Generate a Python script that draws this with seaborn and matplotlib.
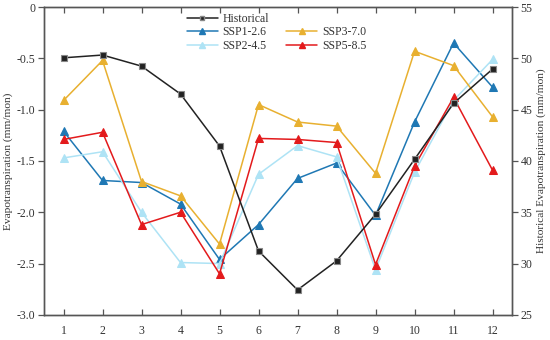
import matplotlib
matplotlib.use("Agg")
import matplotlib.pyplot as plt
import seaborn as sns
import numpy as np
from matplotlib.lines import Line2D

months = list(range(1, 13))
historical = [50.06, 50.33, 49.25, 46.53, 41.46, 31.23, 27.43, 30.26, 34.8, 40.16, 45.62, 48.96]
ssp126 = [-1.21, -1.69, -1.71, -1.92, -2.46, -2.12, -1.67, -1.52, -2.03, -1.12, -0.35, -0.78]
ssp245 = [-1.47, -1.41, -2.00, -2.49, -2.50, -1.63, -1.35, -1.46, -2.56, -1.61, -0.91, -0.51]
ssp370 = [-0.91, -0.52, -1.70, -1.84, -2.31, -0.95, -1.12, -1.16, -1.62, -0.43, -0.57, -1.07]
ssp585 = [-1.29, -1.22, -2.12, -2.00, -2.60, -1.28, -1.29, -1.32, -2.51, -1.55, -0.88, -1.59]
left_ticks = [0, -0.5, -1.0, -1.5, -2.0, -2.5, -3.0]
left_labels = ["0", "-0.5", "-1.0", "-1.5", "-2.0", "-2.5", "-3.0"]
right_ticks = [25, 30, 35, 40, 45, 50, 55]

sns.set_theme(style="white")
plt.rcParams['font.family'] = ['Liberation Serif', 'DejaVu Serif']

fig = plt.figure(figsize=(5.5, 3.4), dpi=100)
ax = fig.add_axes([0.080, 0.074, 0.851, 0.905])
ax2 = ax.twinx()

series = [
    ("SSP1-2.6", ssp126, "#1f78b4"),
    ("SSP2-4.5", ssp245, "#aee3f5"),
    ("SSP3-7.0", ssp370, "#e8b030"),
    ("SSP5-8.5", ssp585, "#e31a1c"),
]
handles = {}
for name, vals, col in series:
    sns.lineplot(x=months, y=vals, ax=ax, color=col, marker="^", markersize=5.5,
                 markeredgecolor=col, linewidth=1.1, legend=False)
    handles[name] = Line2D([], [], color=col, marker="^", markersize=5, linewidth=1.1)

sns.lineplot(x=months, y=historical, ax=ax2, color="#222222", marker="s", markersize=4,
             markerfacecolor="#222222", markeredgecolor="#888888", markeredgewidth=0.8,
             linewidth=1.1, legend=False)
handles["Historical"] = Line2D([], [], color="#222222", marker="s", markersize=3.5,
                               markerfacecolor="#222222", markeredgecolor="#888888",
                               linewidth=1.1)

ax.set_xlim(0.5, 12.5)
ax.set_ylim(-3.0, 0)
ax2.set_ylim(25, 55)
ax.set_xticks(months)
ax.set_xticklabels([str(m) for m in months])
ax.set_yticks(left_ticks)
ax.set_yticklabels(left_labels)
ax2.set_yticks(right_ticks)

spine_col = "#555555"
for a in (ax, ax2):
    for s in a.spines.values():
        s.set_color(spine_col)
        s.set_linewidth(1.0)

ax.tick_params(axis="y", direction="out", length=4, width=0.9, color=spine_col,
               labelsize=8.5, labelcolor="#333333", pad=2)
ax.tick_params(axis="x", direction="in", length=4, width=0.9, color=spine_col,
               top=True, bottom=True, labelsize=8.5, labelcolor="#333333", pad=7)
ax2.tick_params(axis="y", direction="out", length=4, width=0.9, color=spine_col,
                labelsize=8.5, labelcolor="#333333", pad=2)

ax.set_ylabel("Evapotranspiration (mm/mon)", fontsize=8.2, color="#333333", labelpad=3)
ax2.set_ylabel("Historical Evapotranspiration (mm/mon)", fontsize=8.2, color="#333333",
               labelpad=3)
ax.set_xlabel("")

blank = Line2D([], [], color="none")
order = ["Historical", "SSP1-2.6", "SSP2-4.5", None, "SSP3-7.0", "SSP5-8.5"]
hl = [handles[o] if o else blank for o in order]
ll = [o if o else "" for o in order]
leg = ax2.legend(hl, ll, ncol=2, loc="upper left", bbox_to_anchor=(0.29, 1.005),
                 frameon=False, fontsize=8.5, handlelength=2.6, columnspacing=1.5,
                 labelspacing=0.15, handletextpad=0.4, borderaxespad=0.2)
for t in leg.get_texts():
    t.set_color("#333333")

fig.savefig("out.png", dpi=100)
